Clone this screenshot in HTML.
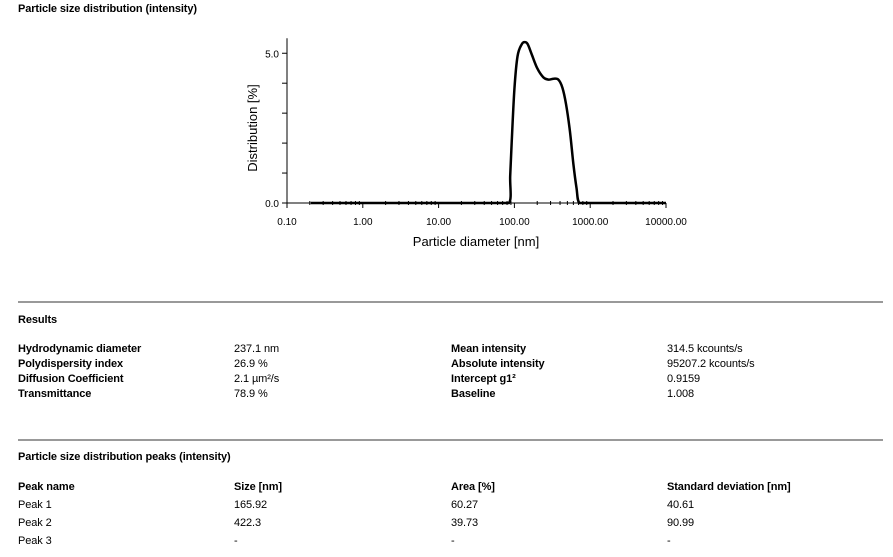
<!DOCTYPE html>
<html><head><meta charset="utf-8"><style>
body{margin:0;width:893px;height:557px;background:#fff;font-family:"Liberation Sans",sans-serif;color:#000;position:relative;overflow:hidden}
.t{position:absolute;font-size:11px;white-space:nowrap;letter-spacing:-0.1px;line-height:13px}
.b{font-weight:bold}
.rule{position:absolute;left:18px;width:865px;height:2px;background:#999}
</style></head><body>
<div class="t b" style="left:18px;top:3px">Particle size distribution (intensity)</div>
<svg id="chart" width="893" height="260" style="position:absolute;left:0;top:0"></svg>
<div class="rule" style="top:301px"></div>
<div class="t b" style="left:18px;top:314px">Results</div>
<div class="t b" style="left:18px;top:343px">Hydrodynamic diameter</div>
<div class="t" style="left:234px;top:343px">237.1 nm</div>
<div class="t b" style="left:18px;top:358px">Polydispersity index</div>
<div class="t" style="left:234px;top:358px">26.9 %</div>
<div class="t b" style="left:18px;top:373px">Diffusion Coefficient</div>
<div class="t" style="left:234px;top:373px">2.1 µm²/s</div>
<div class="t b" style="left:18px;top:388px">Transmittance</div>
<div class="t" style="left:234px;top:388px">78.9 %</div>
<div class="t b" style="left:451px;top:343px">Mean intensity</div>
<div class="t" style="left:667px;top:343px">314.5 kcounts/s</div>
<div class="t b" style="left:451px;top:358px">Absolute intensity</div>
<div class="t" style="left:667px;top:358px">95207.2 kcounts/s</div>
<div class="t b" style="left:451px;top:373px">Intercept g1²</div>
<div class="t" style="left:667px;top:373px">0.9159</div>
<div class="t b" style="left:451px;top:388px">Baseline</div>
<div class="t" style="left:667px;top:388px">1.008</div>
<div class="rule" style="top:439px"></div>
<div class="t b" style="left:18px;top:451px">Particle size distribution peaks (intensity)</div>
<div class="t b" style="left:18px;top:481px">Peak name</div>
<div class="t b" style="left:234px;top:481px">Size [nm]</div>
<div class="t b" style="left:451px;top:481px">Area [%]</div>
<div class="t b" style="left:667px;top:481px">Standard deviation [nm]</div>
<div class="t" style="left:18px;top:499px">Peak 1</div>
<div class="t" style="left:234px;top:499px">165.92</div>
<div class="t" style="left:451px;top:499px">60.27</div>
<div class="t" style="left:667px;top:499px">40.61</div>
<div class="t" style="left:18px;top:517px">Peak 2</div>
<div class="t" style="left:234px;top:517px">422.3</div>
<div class="t" style="left:451px;top:517px">39.73</div>
<div class="t" style="left:667px;top:517px">90.99</div>
<div class="t" style="left:18px;top:535px">Peak 3</div>
<div class="t" style="left:234px;top:535px">-</div>
<div class="t" style="left:451px;top:535px">-</div>
<div class="t" style="left:667px;top:535px">-</div>
<script>
const diameters=[0.207,1,10,50,85,88,92,100,110,125,137,150,170,200,240,280,330,380,430,480,540,600,660,720,1000,10000];
const distribution=[0,0,0,0,0,0.9,2.0,3.8,4.9,5.3,5.37,5.3,4.95,4.5,4.2,4.12,4.15,4.12,3.85,3.3,2.4,1.3,0.5,0,0,0];
const xTickValues=[0.1,1,10,100,1000,10000];
const xTickLabels=["0.10","1.00","10.00","100.00","1000.00","10000.00"];
const yTickValues=[0,1,2,3,4,5];
const yTickLabels=["0.0","","","","","5.0"];
const NS="http://www.w3.org/2000/svg";
const svg=document.getElementById('chart');
const X0=287,DEC=75.8,Y0=203,YU=29.95;
function xs(v){return X0+(Math.log10(v)+1)*DEC;}
function ys(v){return Y0-v*YU;}
function mk(tag,attrs,txt){const e=document.createElementNS(NS,tag);for(const k in attrs)e.setAttribute(k,attrs[k]);if(txt!==undefined)e.textContent=txt;svg.appendChild(e);return e;}
let e;
e=mk('line',{x1:X0,y1:ys(5.5),x2:X0,y2:Y0,stroke:'#000','stroke-width':1});


e=mk('line',{x1:X0,y1:Y0,x2:xs(10000),y2:Y0,stroke:'#000','stroke-width':1});


yTickValues.forEach((v,i)=>{
  e=mk('line',{x1:X0-5,y1:ys(v),x2:X0,y2:ys(v),stroke:'#000'});
  
  
  if(yTickLabels[i]){
    e=mk('text',{x:X0-8,y:ys(v)+4,'text-anchor':'end','font-size':10,'font-family':'Liberation Sans'},yTickLabels[i]);
    
    
  }
});
xTickValues.forEach((v,i)=>{
  e=mk('line',{x1:xs(v),y1:Y0,x2:xs(v),y2:Y0+5,stroke:'#000'});
  
  
  e=mk('text',{x:xs(v),y:Y0+22,'text-anchor':'middle','font-size':10,'font-family':'Liberation Sans'},xTickLabels[i]);
  
  
  if(i<xTickValues.length-1){
    for(let m=2;m<10;m++){
      e=mk('line',{x1:xs(v*m),y1:Y0-2,x2:xs(v*m),y2:Y0+2,stroke:'#000'});
      
      
    }
  }
});
e=mk('text',{x:476,y:246,'text-anchor':'middle','font-size':13,'font-family':'Liberation Sans'},'Particle diameter [nm]');


e=mk('text',{x:257,y:128,'text-anchor':'middle','font-size':13,'font-family':'Liberation Sans',transform:'rotate(-90 257 128)'},'Distribution [%]');


const pts=diameters.map((d,i)=>[xs(d),ys(distribution[i])]);
let dstr='M'+pts[0][0]+','+pts[0][1];
for(let i=1;i<pts.length;i++){
  const p0=pts[Math.max(0,i-2)],p1=pts[i-1],p2=pts[i],p3=pts[Math.min(pts.length-1,i+1)];
  const flat=(p1[1]===Y0&&p2[1]===Y0);
  if(flat){dstr+=' L'+p2[0]+','+p2[1];continue;}
  const c1=[p1[0]+(p2[0]-p0[0])/6,p1[1]+(p2[1]-p0[1])/6];
  const c2=[p2[0]-(p3[0]-p1[0])/6,p2[1]-(p3[1]-p1[1])/6];
  c1[1]=Math.min(c1[1],Y0);c2[1]=Math.min(c2[1],Y0);
  dstr+=' C'+c1[0]+','+c1[1]+' '+c2[0]+','+c2[1]+' '+p2[0]+','+p2[1];
}
e=mk('path',{d:dstr,fill:'none',stroke:'#000','stroke-width':2.5,'stroke-linejoin':'round'});


</script>
</body></html>
